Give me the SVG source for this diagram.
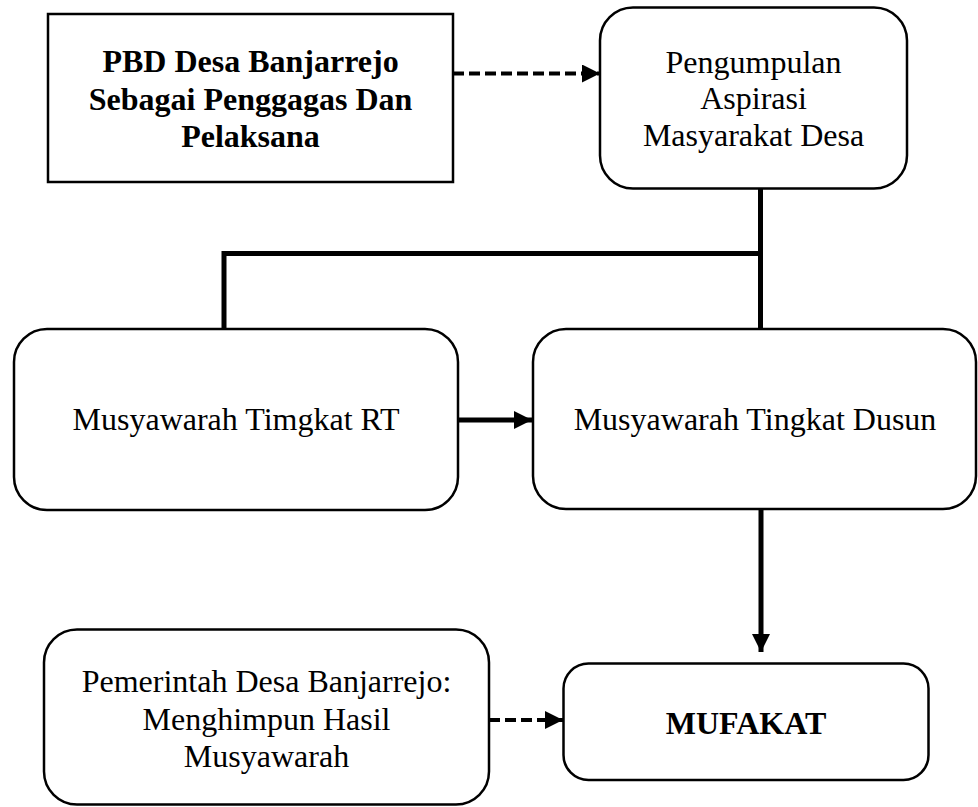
<svg xmlns="http://www.w3.org/2000/svg" width="978" height="807" viewBox="0 0 978 807">
  <defs>
    <style>
      .box { fill: #fff; stroke: #000; stroke-width: 2.5; }
      .label { font-family: "Liberation Serif", "Times New Roman", serif; font-size: 32px; fill: #000; text-anchor: middle; }
      .bold { font-weight: bold; }
      .thick { fill: none; stroke: #000; stroke-width: 5; }
      .dash { fill: none; stroke: #000; stroke-width: 4; stroke-dasharray: 11 5; }
    </style>
    <marker id="head" markerUnits="userSpaceOnUse" markerWidth="18" markerHeight="18" viewBox="0 0 17 17" refX="17" refY="8.5" orient="auto">
      <path d="M0,0 L17,8.5 L0,17 Z" fill="#000"/>
    </marker>
  </defs>
  <rect width="978" height="807" fill="#fff"/>

  <!-- connectors -->
  <g id="connectors">
    <line class="dash" x1="453" y1="73.5" x2="600" y2="73.5" marker-end="url(#head)"/>
    <line class="thick" x1="760.5" y1="188" x2="760.5" y2="329"/>
    <polyline class="thick" points="760.5,253.5 224,253.5 224,329"/>
    <line class="thick" x1="458" y1="420" x2="532" y2="420" marker-end="url(#head)"/>
    <line class="thick" x1="761" y1="509" x2="761" y2="652" marker-end="url(#head)"/>
    <line class="dash" x1="489" y1="720" x2="563" y2="720" marker-end="url(#head)"/>
  </g>

  <g id="pbd">
    <rect class="box" x="48" y="14" width="405" height="168"/>
    <text class="label bold" x="250.5" y="72">PBD Desa Banjarrejo</text>
    <text class="label bold" x="250.5" y="110">Sebagai Penggagas Dan</text>
    <text class="label bold" x="250.5" y="147">Pelaksana</text>
  </g>

  <g id="pengumpulan">
    <rect class="box" x="600" y="7.5" width="307" height="181" rx="33" ry="33"/>
    <text class="label" x="753.5" y="72.5">Pengumpulan</text>
    <text class="label" x="753.5" y="108.5">Aspirasi</text>
    <text class="label" x="753.5" y="145.5">Masyarakat Desa</text>
  </g>

  <g id="rt">
    <rect class="box" x="14" y="329" width="444" height="181" rx="33" ry="33"/>
    <text class="label" x="236" y="430">Musyawarah Timgkat RT</text>
  </g>

  <g id="dusun">
    <rect class="box" x="533" y="329" width="443" height="180" rx="33" ry="33"/>
    <text class="label" x="755" y="429.5">Musyawarah Tingkat Dusun</text>
  </g>

  <g id="pemerintah">
    <rect class="box" x="44" y="629.5" width="445" height="175" rx="33" ry="33"/>
    <text class="label" x="266.5" y="691.5">Pemerintah Desa Banjarrejo:</text>
    <text class="label" x="266.5" y="730">Menghimpun Hasil</text>
    <text class="label" x="266.5" y="767">Musyawarah</text>
  </g>

  <g id="mufakat">
    <rect class="box" x="563.5" y="663.5" width="365" height="116.5" rx="25" ry="25"/>
    <text class="label bold" x="746" y="733.5">MUFAKAT</text>
  </g>
</svg>
